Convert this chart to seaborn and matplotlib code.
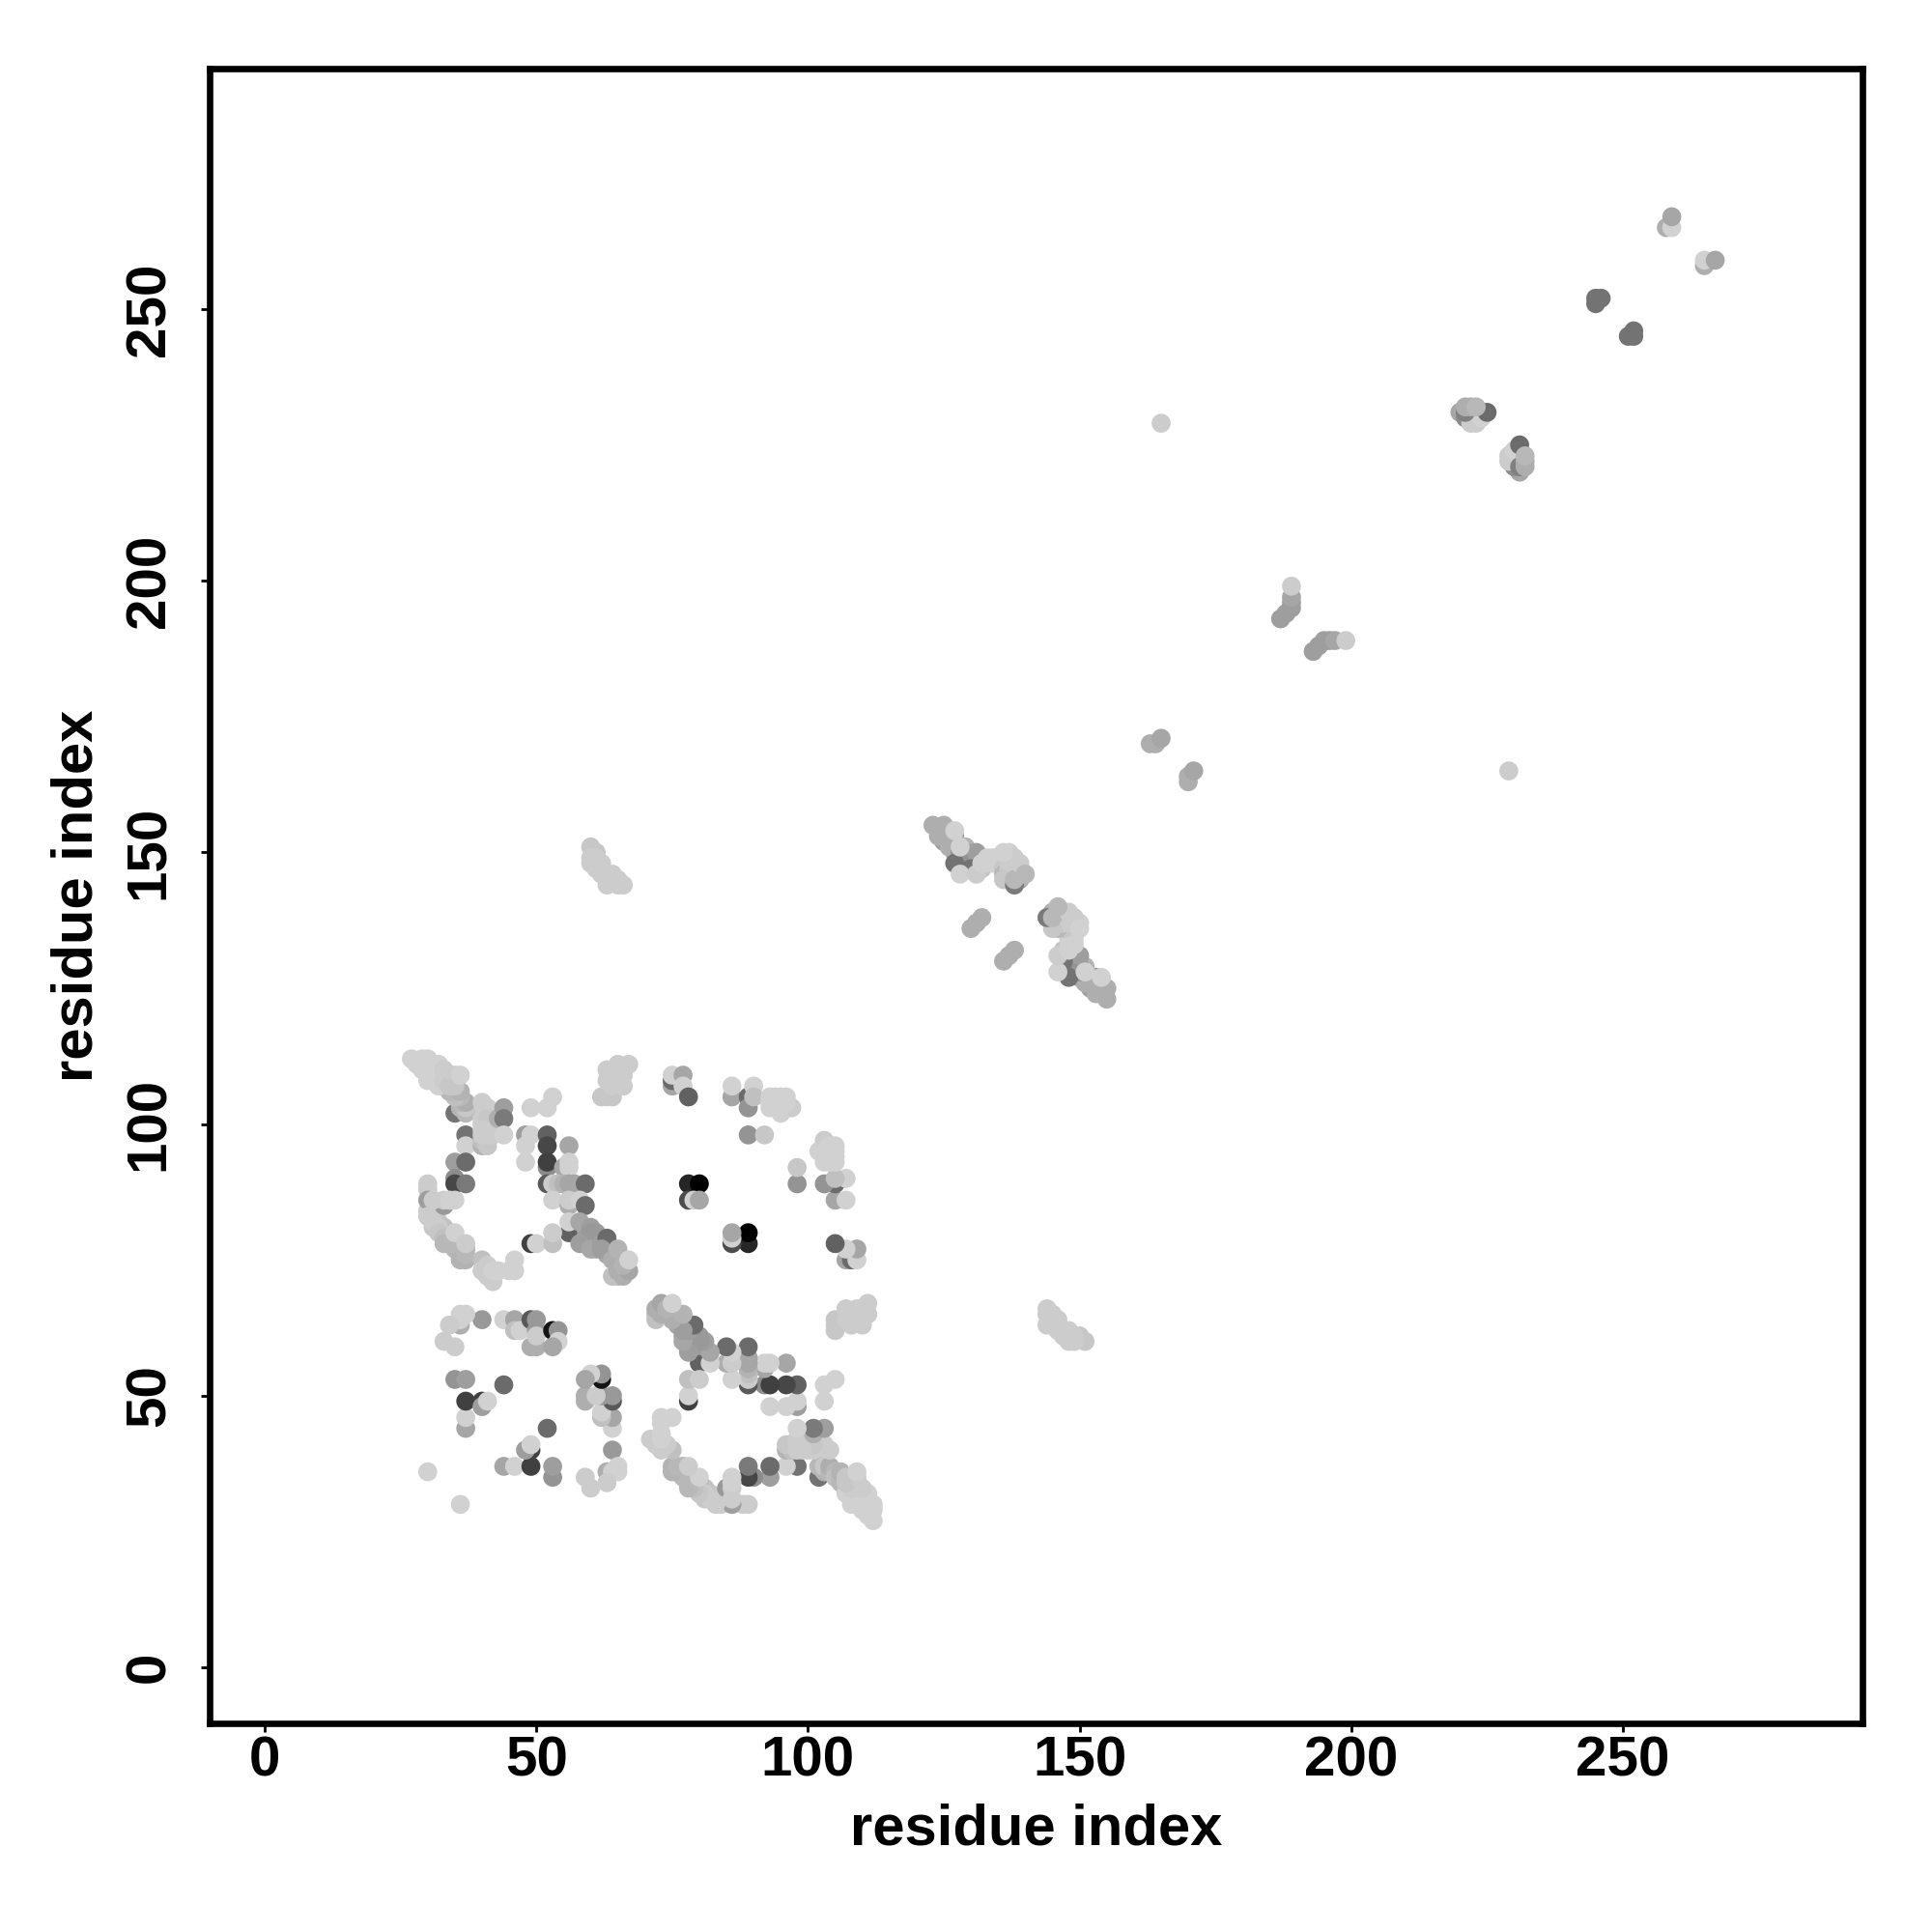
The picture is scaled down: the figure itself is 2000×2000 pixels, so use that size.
import matplotlib
matplotlib.use("Agg")
import matplotlib.pyplot as plt
import pandas as pd
import seaborn as sns

# contacts are listed once (i < j) and mirrored further down
# grey level: 0 is black, 1 is white
fill_i = [30, 31, 31, 32, 33, 33, 34, 34, 35, 35, 36, 36, 37,
          57, 58, 59, 60, 61, 61, 62, 63, 63, 64, 65, 65, 65, 66,
          40, 40, 41, 42, 41, 42,
          124, 125, 125, 126, 127, 127, 127, 128, 128, 129, 129, 129, 129, 130, 130, 131, 131, 132, 132, 133, 134, 134, 135,
          136, 136, 136, 136, 137, 137, 137, 137, 138, 138, 138, 138, 139, 139, 139]
fill_j = [84, 83, 81, 82, 81, 80, 80, 79, 79, 78, 78, 77, 77,
          81, 80, 78, 79, 78, 77, 79, 77, 76, 76, 74, 75, 72, 73,
          100, 102, 100, 100, 97, 99,
          154, 153, 152, 152, 153, 152, 150, 149, 148, 151, 150, 149, 147, 149, 148, 148, 147, 149, 147, 148, 148, 149, 149,
          149, 148, 147, 146, 150, 147, 146, 145, 149, 148, 147, 146, 147, 146, 145]
fill_grey = [.8, .8, .78, .78, .76, .76, .74, .74, .72, .72, .72, .72, .7,
             .65, .65, .62, .62, .62, .62, .62, .65, .66, .68, .7, .7, .72, .68,
             .8, .8, .8, .8, .78, .8,
             .68, .68, .62, .62, .6, .72, .62, .58, .5, .7, .6, .6, .5, .58, .55, .6, .72, .75, .76, .8, .82, .82, .82,
             .82, .8, .78, .72, .82, .8, .75, .72, .8, .8, .76, .72, .78, .72, .68]

band_i = [35, 36, 37, 37, 36, 37, 36, 35, 34, 35, 36,
          27, 28, 29, 29, 30, 30, 30, 30, 31, 31, 32, 32, 32, 33, 33, 34, 34, 35, 35, 36]
band_j = [102, 103, 102, 103, 104, 104, 105, 105, 106, 106, 106,
          112, 111, 112, 110, 112, 111, 109, 108, 110, 108, 111, 109, 107, 110, 108, 109, 107, 109, 107, 109]
band_grey = [.45, .7, .72, .78, .72, .68, .72, .75, .72, .72, .7,
             .82, .82, .82, .82, .82, .82, .82, .82, .82, .82, .82, .82, .82, .8, .8, .8, .78, .8, .78, .82]

ring_i = [37, 37, 35, 37, 35, 35, 37, 30, 30, 30, 33, 31, 33, 34, 35, 30, 31, 32, 32, 33, 34, 33,
          35, 36, 37, 36, 37, 35, 37, 40, 40, 41, 41, 42, 42, 43, 45, 46, 46]
ring_j = [98, 96, 93, 93, 90, 89, 89, 89, 88, 86, 85, 86, 86, 86, 86, 83, 82, 81, 80, 79, 78, 78,
          77, 76, 75, 75, 76, 80, 78, 75, 73, 72, 74, 71, 73, 73, 73, 73, 75]
ring_grey = [.45, .82, .62, .42, .55, .28, .48, .8, .8, .62, .6, .8, .8, .82, .82, .8, .8, .8, .78, .75, .75, .72,
             .72, .72, .7, .7, .72, .82, .8, .75, .8, .8, .8, .8, .82, .82, .82, .82, .82]

mid_i = [40, 40, 41, 40, 41, 41, 40, 41, 40, 40, 41, 42, 43, 44, 44, 44,
         53, 52, 49, 48, 49, 48, 48, 52, 52, 52, 52, 56, 55, 56, 56,
         52, 53, 54, 55, 56, 57, 59, 53, 56, 56, 58, 59, 56, 56, 58, 59, 60, 59, 60, 61, 61,
         58, 60, 62, 63, 62, 64, 65, 64, 65, 66, 67, 66, 67,
         49, 50, 53, 53]
mid_j = [96, 97, 96, 104, 103, 102, 101, 101, 99, 98, 98, 98, 101, 103, 101, 98,
         105, 103, 103, 98, 98, 96, 93, 98, 96, 92, 93, 96, 92, 92, 93,
         89, 89, 89, 89, 89, 89, 89, 86, 85, 86, 86, 85, 80, 82, 82, 81, 81, 79, 80, 80, 79,
         78, 77, 78, 79, 77, 75, 77, 72, 73, 72, 73, 74, 75,
         78, 78, 78, 80]
mid_grey = [.7, .75, .78, .8, .8, .8, .8, .78, .8, .8, .8, .8, .68, .62, .48, .82,
            .82, .82, .82, .62, .82, .82, .82, .38, .28, .55, .25, .65, .65, .82, .82,
            .35, .8, .75, .7, .65, .65, .42, .82, .68, .8, .82, .42, .38, .82, .65, .65, .62, .62, .6, .6, .6,
            .62, .65, .62, .42, .62, .68, .7, .75, .68, .68, .65, .7, .82,
            .25, .82, .75, .8]

corner_i = [63, 62, 64, 63, 63, 64, 65, 66, 65, 66, 67, 64, 65]
corner_j = [105, 105, 105, 108, 110, 107, 108, 107, 111, 109, 111, 109, 110]
corner_grey = [.8, .78, .78, .8, .8, .8, .8, .8, .8, .8, .8, .8, .8]

low_i = [30, 37, 37, 37, 40, 40, 41, 44, 35, 37, 40, 36, 36, 37, 36, 34, 33, 35,
         44, 46, 46, 47, 49, 50, 50, 49, 50, 50, 53, 54, 54, 53]
low_j = [36, 44, 46, 49, 49, 48, 49, 52, 53, 53, 64, 63, 65, 65, 64, 63, 60, 59,
         64, 64, 62, 62, 64, 64, 62, 59, 59, 61, 62, 62, 60, 59]
low_grey = [.82, .65, .82, .25, .25, .62, .82, .42, .58, .62, .6, .68, .82, .82, .82, .8, .8, .8,
            .82, .65, .75, .82, .35, .6, .6, .68, .68, .8, .08, .58, .82, .65]

upper_i = [75, 75, 75, 77, 77, 78, 86, 86, 89, 89, 90, 90, 89, 92,
           93, 94, 95, 96, 93, 95, 97, 94, 96, 95, 93,
           78, 80, 78, 79, 80]
upper_j = [107, 108, 109, 109, 107, 105, 105, 107, 105, 103, 107, 105, 98, 98,
           105, 105, 105, 105, 103, 102, 103, 104, 104, 103, 104,
           89, 89, 86, 86, 86]
upper_grey = [.65, .42, .82, .65, .82, .38, .65, .82, .42, .58, .82, .75, .58, .78,
              .82, .82, .82, .82, .82, .82, .8, .82, .82, .82, .82,
              .15, 0, .3, .82, .65]

side_i = [60, 61, 60, 61, 60, 62, 62, 61, 62, 63, 64, 63, 64, 63, 65, 65, 66]
side_j = [151, 150, 149, 149, 148, 148, 147, 147, 146, 146, 146, 145, 145, 144, 145, 144, 144]
side_grey = [.78, .78, .8, .8, .8, .8, .8, .8, .8, .8, .8, .8, .8, .8, .8, .8, .8]

centre_i = [123, 125, 124, 126, 128, 131, 127, 130, 127, 128, 128, 131, 132, 133,
            137, 136, 136, 138, 138, 139, 140, 130, 131, 132]
centre_j = [155, 155, 153, 151, 150, 150, 148, 147, 154, 151, 146, 146, 148, 149,
            148, 150, 145, 144, 145, 148, 146, 136, 137, 138]
centre_grey = [.68, .68, .68, .68, .58, .62, .45, .45, .82, .82, .82, .8, .82, .82,
               .8, .82, .78, .48, .72, .8, .72, .68, .68, .68]

chain_i = [163, 164, 165, 165, 187, 188, 189, 189, 189, 189]
chain_j = [170, 170, 171, 229, 193, 194, 195, 196, 197, 199]
chain_grey = [.68, .68, .65, .8, .62, .62, .62, .62, .65, .8]

tail_i = [220, 221, 222, 222, 223, 223, 223, 224, 224, 225, 221, 221, 222, 223,
          245, 245, 246, 258, 259, 259]
tail_j = [231, 230, 230, 229, 229, 230, 231, 230, 231, 231, 231, 232, 232, 232,
          251, 252, 252, 265, 265, 267]
tail_grey = [.65, .55, .78, .8, .8, .8, .82, .82, .82, .42, .5, .68, .68, .72,
             .45, .45, .45, .68, .82, .65]

tick_values = [0, 50, 100, 150, 200, 250]

res_i = fill_i + band_i + ring_i + mid_i + corner_i + low_i + upper_i + side_i + centre_i + chain_i + tail_i
res_j = fill_j + band_j + ring_j + mid_j + corner_j + low_j + upper_j + side_j + centre_j + chain_j + tail_j
grey = fill_grey + band_grey + ring_grey + mid_grey + corner_grey + low_grey + upper_grey + side_grey + centre_grey + chain_grey + tail_grey

contacts = pd.DataFrame({"x": res_i + res_j, "y": res_j + res_i, "grey": grey + grey})

sns.set_style("white", {"text.color": "black", "axes.labelcolor": "black",
                        "xtick.color": "black", "ytick.color": "black"})
plt.rcParams["font.family"] = ["Liberation Sans", "DejaVu Sans"]

fig = plt.figure(figsize=(10, 10), dpi=200)
ax = fig.add_axes([0.10835, 0.108, 0.85565, 0.8563])

sns.scatterplot(data=contacts, x="x", y="y", hue="grey", palette="gray", hue_norm=(0, 1),
                s=50, linewidth=0, legend=False, ax=ax)

ax.set_xlim(-10.2, 294.1)
ax.set_ylim(-10.3, 294.2)
ax.set_xticks(tick_values)
ax.set_yticks(tick_values)
ax.tick_params(axis="both", length=3.4, width=1, color="black", labelsize=21, pad=1, bottom=True, left=True)
ax.tick_params(axis="y", pad=9)
for label in ax.get_xticklabels():
    label.set_fontweight("bold")
for label in ax.get_yticklabels():
    label.set_fontweight("bold")
    label.set_rotation(90)
    label.set_va("center")

ax.set_xlabel("residue index", fontsize=21.5, fontweight="bold", labelpad=6)
ax.set_ylabel("residue index", fontsize=21.5, fontweight="bold", labelpad=7.3)

for spine in ax.spines.values():
    spine.set_visible(True)
    spine.set_color("black")
    spine.set_linewidth(2.4)

plt.savefig("out.png", dpi=200, facecolor="white")
